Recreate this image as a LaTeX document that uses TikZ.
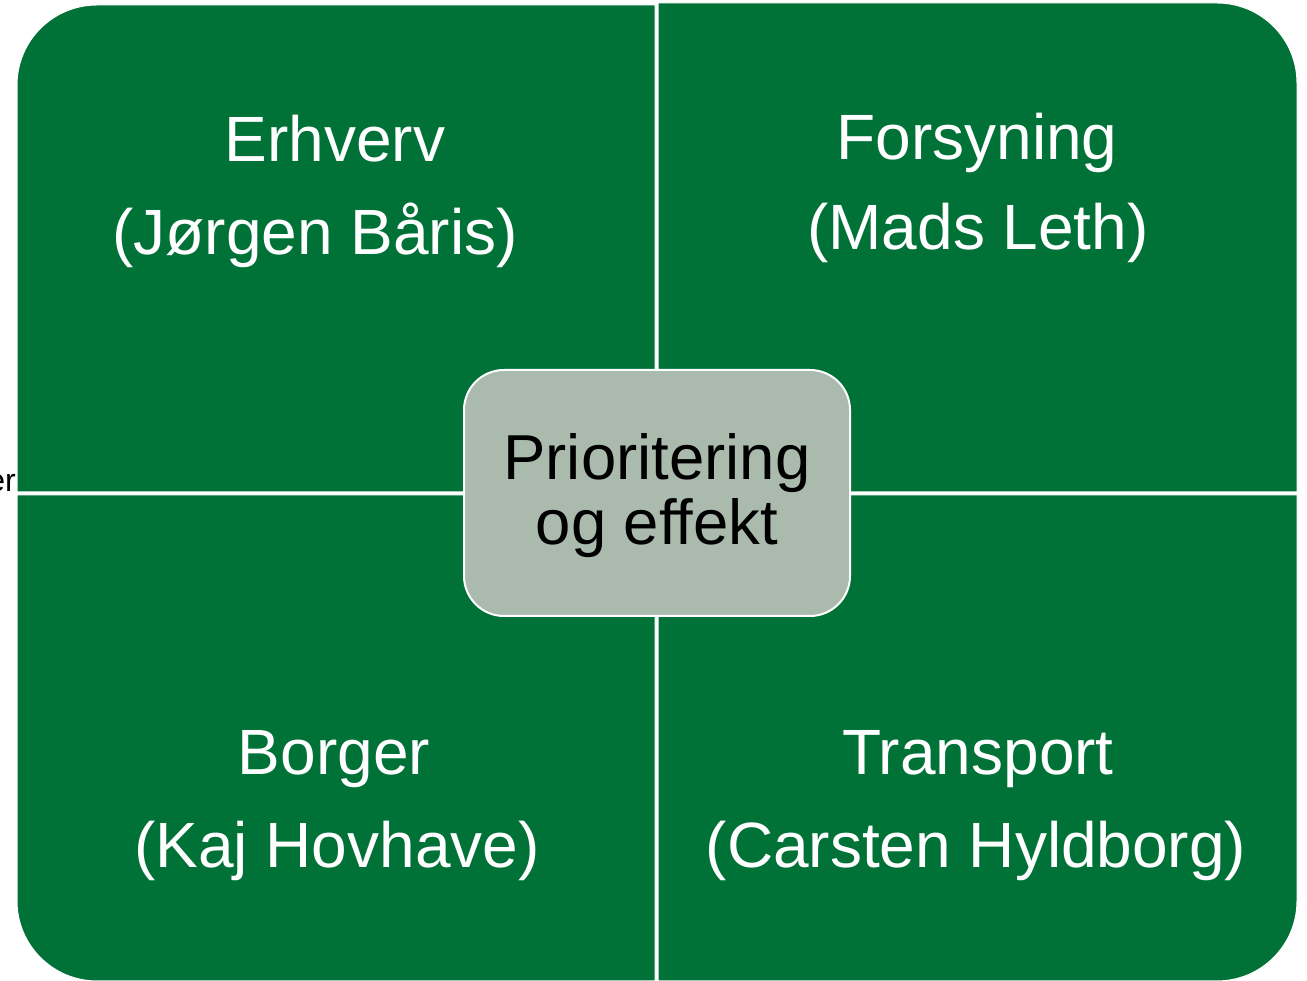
\documentclass[tikz,border=0pt]{standalone}
\usepackage{fontspec}
\setmainfont{Liberation Sans}
\definecolor{quadgreen}{RGB}{0,114,56}
\definecolor{centerfill}{RGB}{170,187,174}
\begin{document}
\begin{tikzpicture}[x=1pt,y=1pt,
  quad/.style={fill=quadgreen,draw=white,line width=1pt},
  qtext/.style={text=white,inner sep=0pt,anchor=base,font=\fontsize{64}{70}\selectfont},
  ctext/.style={text=black,inner sep=0pt,anchor=base,font=\fontsize{63.5}{70}\selectfont},
  centerbox/.style={draw=white,line width=2pt,fill=centerfill,rounded corners=40pt,
    minimum width=386pt,minimum height=246pt,inner sep=0pt}]
\useasboundingbox (0,0) rectangle (1307,981);
% quadrants
\path[quad] (17,489) -- (17,896) arc[start angle=180,end angle=90,radius=80] -- (655,976) -- (655,489) -- cycle;
\path[quad] (658,489) -- (658,978) -- (1217,978) arc[start angle=90,end angle=0,radius=80] -- (1297,489) -- cycle;
\path[quad] (17,486) -- (655,486) -- (655,0) -- (97,0) arc[start angle=270,end angle=180,radius=80] -- cycle;
\path[quad] (658,486) -- (1297,486) -- (1297,80) arc[start angle=0,end angle=-90,radius=80] -- (658,0) -- cycle;
% quadrant texts
\node[qtext] (erh1) at (335,819) {Erhverv};
\node[qtext] (erh2) at (315,726) {(Jørgen Båris)};
\node[qtext] (for1) at (977,821) {Forsyning};
\node[qtext] (for2) at (978,731) {(Mads Leth)};
\node[qtext] (bor1) at (334,206) {Borger};
\node[qtext] (bor2) at (337,113) {(Kaj Hovhave)};
\node[qtext] (tra1) at (978,206) {Transport};
\node[qtext] (tra2) at (976,113) {(Carsten Hyldborg)};
% centre
\node[centerbox] (center) at (657,488) {};
\node[ctext] (cen1) at (657,501) {Prioritering};
\node[ctext] (cen2) at (657,436) {og effekt};
% clipped text at left edge
\node[text=black,inner sep=0pt,anchor=base east,font=\fontsize{32}{36}\selectfont] (cut) at (16,489) {er};
\end{tikzpicture}
\end{document}
